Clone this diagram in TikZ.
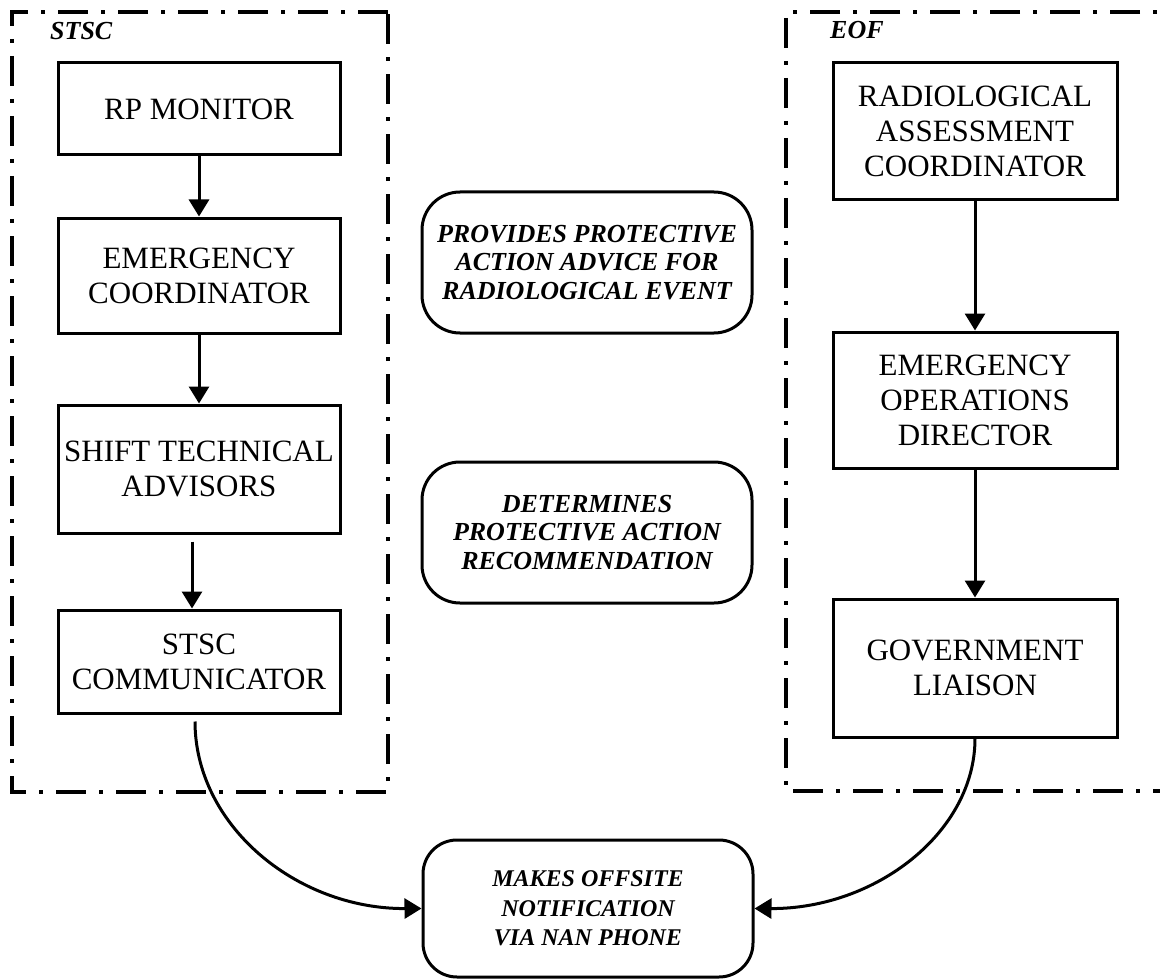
\documentclass[tikz,border=0pt]{standalone}
\usepackage{fontspec}
\setmainfont{Liberation Serif}
\usetikzlibrary{arrows.meta}
\tikzset{
  orgbox/.style={draw, line width=3pt, rectangle, inner sep=0pt, align=center,
    font=\fontsize{31}{35}\selectfont},
  actbox/.style={draw, line width=3pt, rectangle, rounded corners=38pt, inner sep=0pt, align=center,
    font=\fontsize{26}{28.5}\selectfont\bfseries\itshape, minimum width=330pt},
  flow/.style={line width=3pt, -{Triangle[length=17pt,width=20pt]}},
  frame/.style={line width=3.2pt, dash pattern=on 30pt off 13pt on 4pt off 13pt},
  grouplabel/.style={anchor=base west, inner sep=0pt, font=\fontsize{26}{28}\selectfont\bfseries\itshape}
}
\begin{document}
\begin{tikzpicture}[x=1pt,y=-1pt]
\useasboundingbox (0,0) rectangle (1160,979);
% frames
\draw[frame] (388,12) -- (12,12) -- (12,792) -- (388,792) -- cycle;
\draw[frame] (1200,12) -- (786,12) -- (786,791) -- (1200,791);
\node[grouplabel] (lstsc) at (50,40) {STSC};
\node[grouplabel] (leof) at (830,39) {EOF};
% left column
\node[orgbox, minimum width=282pt, minimum height=92pt] (rp) at (199,109) {RP MONITOR};
\node[orgbox, minimum width=282pt, minimum height=115pt] (ec) at (199,275.5) {EMERGENCY\\COORDINATOR};
\node[orgbox, minimum width=282pt, minimum height=128pt] (sta) at (199,469) {SHIFT TECHNICAL\\ADVISORS};
\node[orgbox, minimum width=282pt, minimum height=103pt] (stc) at (199,661.5) {STSC\\COMMUNICATOR};
% right column
\node[orgbox, minimum width=284pt, minimum height=137pt] (rac) at (975,131.5) {RADIOLOGICAL\\ASSESSMENT\\COORDINATOR};
\node[orgbox, minimum width=284pt, minimum height=136pt] (eod) at (975,400) {EMERGENCY\\OPERATIONS\\DIRECTOR};
\node[orgbox, minimum width=284pt, minimum height=138pt] (gl) at (975,668) {GOVERNMENT\\LIAISON};
% middle
\node[actbox, minimum height=141pt] (pro) at (587,262.5) {PROVIDES PROTECTIVE\\ACTION ADVICE FOR\\RADIOLOGICAL EVENT};
\node[actbox, minimum height=141pt] (det) at (587,532.5) {DETERMINES\\PROTECTIVE ACTION\\RECOMMENDATION};
\node[actbox, minimum height=137pt, rounded corners=34pt, font=\fontsize{24}{29.5}\selectfont\bfseries\itshape] (mk) at (588,908.5) {MAKES OFFSITE\\NOTIFICATION\\VIA NAN PHONE};
% connectors
\draw[flow] (rp.south) -- (ec.north);
\draw[flow] (ec.south) -- (sta.north);
\draw[flow] ([xshift=-7pt,yshift=-7pt]sta.south) -- ([xshift=-7pt]stc.north);
\draw[flow] (rac.south) -- (eod.north);
\draw[flow] (eod.south) -- (gl.north);
\draw[flow] ([xshift=-4pt,yshift=-7pt]stc.south) .. controls (195,825) and (296,909) .. (mk.west);
\draw[flow] (gl.south) .. controls (975,832) and (876,909) .. (mk.east);
\end{tikzpicture}
\end{document}
